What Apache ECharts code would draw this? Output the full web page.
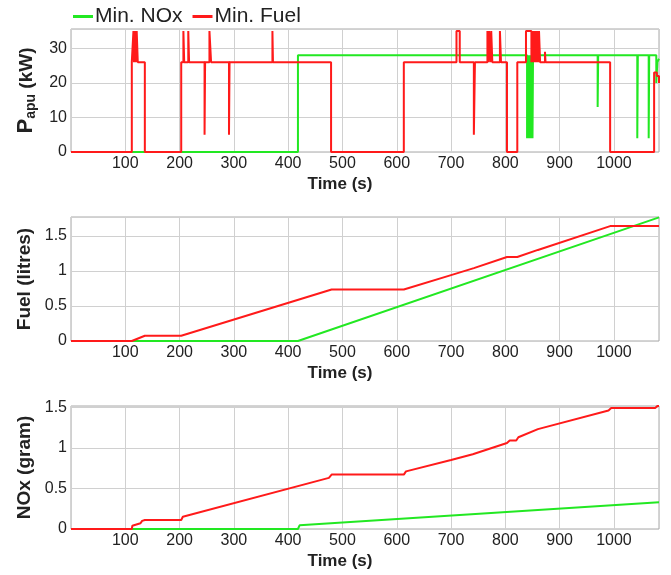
<!DOCTYPE html>
<html>
<head>
<meta charset="utf-8">
<script src="https://cdn.jsdelivr.net/npm/echarts@6/dist/echarts.min.js"></script>
<style>html,body{margin:0;padding:0;background:#fff}#c{width:671px;height:575px}</style>
</head>
<body>
<div id="c"></div>
<script>
// ---- data ----
const seriesNames = ['Min. NOx', 'Min. Fuel'];
const xTicks = [100, 200, 300, 400, 500, 600, 700, 800, 900, 1000];
const xMax = 1083;

// APU power (kW), [time s, power] – value holds from time onward
const papuNOx = [[0,0],[418,28],[840,4],[841,28],[842,4],[843,28],[844,4],[845,28],[846,4],[847,28],[848,4],[849,28],[850,4],[851,28],[970,13],[971,28],[1043,4],[1044,28],[1064,4],[1065,28],[1078,20],[1080,26],[1083,27]];
const papuFuel = [[0,0],[112,26],[115,35],[116,26],[117,35],[118,26],[119,35],[120,26],[121,35],[123,26],[136,0],[203,26],[207,35],[208.5,26],[216,35],[217.5,26],[246,5],[247,26],[255,35],[258,26],[291,5],[292,26],[371,35],[372,26],[479,0],[613,26],[710,35],[716,26],[742,5],[744,26],[767,35],[769,26],[770,35],[773,26],[774,35],[776,26],[790,35],[792,26],[803,0],[822,26],[838,35],[848,26],[849,35],[850,26],[851,35],[852,26],[853,35],[854,26],[855,35],[856,26],[857,35],[858,26],[859,35],[861,26],[862,35],[864,26],[873,29],[874,26],[993,0],[1074,23],[1079,22],[1083,20]];

// Cumulative fuel (litres)
const fuelNOx = [[0,0],[418,0],[1083,1.765]];
const fuelFuel = [[0,0],[112,0],[136,0.075],[203,0.075],[480,0.735],[613,0.735],[700,0.94],[742,1.04],[803,1.2],[822,1.2],[860,1.3],[993,1.64],[1083,1.64]];

// Cumulative NOx (gram)
const noxNOx = [[0,0],[418,0],[421,0.045],[1083,0.33]];
const noxFuel = [[0,0],[112,0],[113,0.04],[128,0.07],[131,0.1],[136,0.11],[203,0.11],[206,0.15],[475,0.63],[480,0.67],[613,0.67],[617,0.71],[700,0.85],[740,0.92],[803,1.06],[808,1.09],[820,1.09],[824,1.13],[860,1.23],[990,1.46],[995,1.49],[1076,1.49],[1080,1.515],[1083,1.515]];

const yTop = {min: 0, max: 35.6, interval: 10};
const yMid = {min: 0, max: 1.77, interval: 0.5};
const yBot = {min: 0, max: 1.515, interval: 0.5};

// ---- chart ----
const GREEN = '#22e822', RED = '#ff1a1a', TXT = '#222';
const grids = [
  {left: 71, right: 12, top: 29, height: 123},
  {left: 71, right: 12, top: 217, height: 124},
  {left: 71, right: 12, top: 406, height: 123}
].map(g => Object.assign(g, {show: true, borderColor: '#a8a8a8', borderWidth: 1, backgroundColor: '#fff'}));

function xAxis(i) {
  return {
    type: 'value', gridIndex: i, min: 0, max: xMax, interval: 100,
    name: 'Time (s)', nameLocation: 'middle', nameGap: 24,
    nameTextStyle: {fontFamily: 'Liberation Sans', fontWeight: 'bold', fontSize: 17, color: TXT, padding: [0, 50, 0, 0]},
    axisLine: {show: false}, axisTick: {show: false},
    axisLabel: {fontFamily: 'Liberation Sans', fontSize: 16, color: TXT, margin: 4,
      formatter: v => xTicks.indexOf(v) >= 0 ? String(v) : ''},
    splitLine: {show: true, lineStyle: {color: '#d0d0d0', width: 1}}
  };
}
function yAxis(i, cfg, name, gap) {
  return Object.assign({
    type: 'value', gridIndex: i,
    name: name, nameLocation: 'middle', nameGap: gap,
    nameTextStyle: {fontFamily: 'Liberation Sans', fontWeight: 'bold', fontSize: 19, color: TXT,
      rich: {P: {fontFamily: 'Liberation Sans', fontWeight: 'bold', fontSize: 22, color: TXT},
             s: {fontFamily: 'Liberation Sans', fontWeight: 'bold', fontSize: 14, color: TXT, padding: [10, 0, 0, 0]},
             u: {fontFamily: 'Liberation Sans', fontWeight: 'bold', fontSize: 19, color: TXT}}},
    axisLine: {show: false}, axisTick: {show: false},
    axisLabel: {fontFamily: 'Liberation Sans', fontSize: 16, color: TXT, margin: 4,
      formatter: v => (Math.abs(v / cfg.interval - Math.round(v / cfg.interval)) < 1e-6) ? String(+v.toFixed(2)) : ''},
    splitLine: {show: true, lineStyle: {color: '#d0d0d0', width: 1}}
  }, cfg);
}
function line(name, data, i, color, step) {
  return {name, type: 'line', xAxisIndex: i, yAxisIndex: i, data, step: step ? 'end' : false,
    showSymbol: false, symbol: 'none', lineStyle: {color, width: 2}, itemStyle: {color}, animation: false};
}

const chart = echarts.init(document.getElementById('c'), null, {renderer: 'canvas'});
chart.setOption({
  backgroundColor: '#fff',
  animation: false,
  legend: {
    left: 68, top: 1, itemWidth: 20, itemHeight: 3, itemGap: 10, icon: 'rect',
    data: seriesNames,
    textStyle: {fontFamily: 'Liberation Sans', fontSize: 21, color: TXT, padding: [0, 0, 0, -3]}
  },
  grid: grids,
  xAxis: [xAxis(0), xAxis(1), xAxis(2)],
  yAxis: [
    yAxis(0, yTop, '{P|P}{s|apu}{u| (kW)}', 32),
    yAxis(1, yMid, 'Fuel (litres)', 37),
    yAxis(2, yBot, 'NOx (gram)', 37)
  ],
  series: [
    line(seriesNames[0], papuNOx, 0, GREEN, true),
    line(seriesNames[1], papuFuel, 0, RED, true),
    line(seriesNames[0], fuelNOx, 1, GREEN, false),
    line(seriesNames[1], fuelFuel, 1, RED, false),
    line(seriesNames[0], noxNOx, 2, GREEN, false),
    line(seriesNames[1], noxFuel, 2, RED, false)
  ]
});
</script>
</body>
</html>
